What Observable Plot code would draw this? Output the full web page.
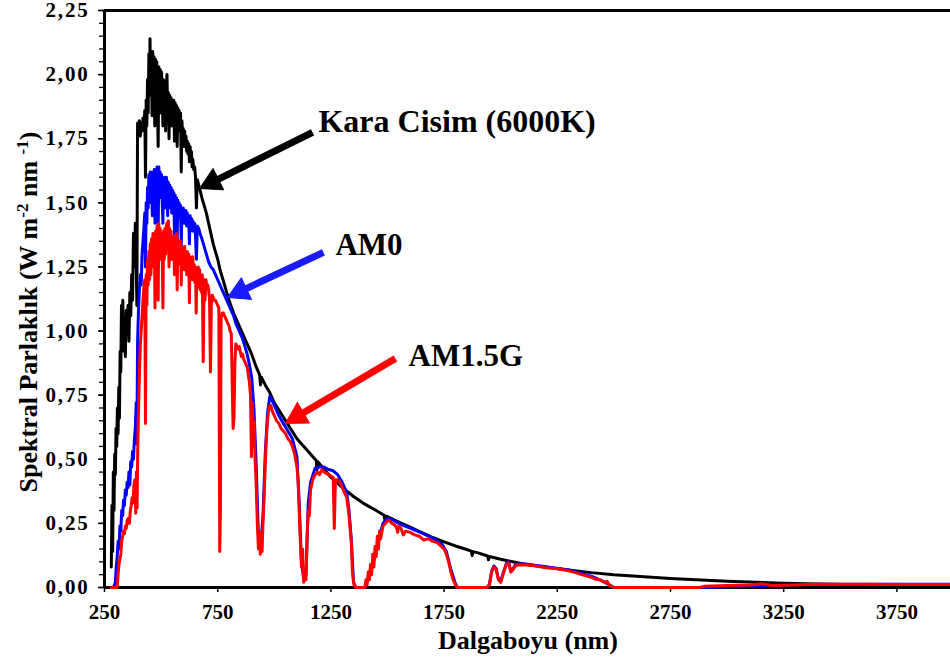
<!DOCTYPE html>
<html><head><meta charset="utf-8">
<script src="https://cdn.jsdelivr.net/npm/d3@7"></script>
<script src="https://cdn.jsdelivr.net/npm/@observablehq/plot@0.6"></script>
<style>
html,body{margin:0;padding:0;background:#fff;overflow:hidden;}
#chart svg{display:block;}
</style></head><body><div id="chart"></div>
<script>
// ---------- data ----------
const xTicks = [250, 750, 1250, 1750, 2250, 2750, 3250, 3750];
const yTicks = [0, 0.25, 0.5, 0.75, 1, 1.25, 1.5, 1.75, 2, 2.25];

// Kara Cisim (6000K) - black
const bbWl = [280,283,286,289,292,295,298,301,304,307,310,313,316,319,322,325,328,331,334,338,342,346,350,354,358,362,366,370,374,378,382,386,390,393,396,400,404,408,412,416,420,424,428,431,434,437,440,443,446,449,451,454,457,460,463,466,469,472,475,478,481,484,487,490,493,496,499,502,505,508,511,514,517,520,523,526,529,532,535,538,541,544,547,550,553,556,559,562,565,568,571,574,577,580,583,586,589,592,595,598,601,604,607,610,613,616,619,622,625,628,631,634,637,640,644,648,652,656,660,666,672,680,690,700,710,720,730,740,750,760,770,780,790,800,820,840,860,880,900,920,935,939,943,960,980,1000,1050,1100,1150,1185,1189,1193,1250,1300,1350,1400,1450,1485,1490,1495,1550,1600,1650,1700,1750,1800,1850,1870,1874,1878,1900,1942,1946,1950,2000,2100,2200,2300,2400,2500,2600,2750,3000,3250,3500,3750,4000];
const bbVal = [0.08,0.32,0.14,0.45,0.30,0.52,0.44,0.62,0.55,0.70,0.60,0.78,0.66,0.92,0.84,1.10,0.92,1.12,0.95,1.05,0.90,1.08,1.00,1.10,0.96,1.15,1.06,1.22,1.12,1.38,1.25,1.42,1.28,1.10,1.81,1.79,1.82,1.76,1.81,1.78,1.83,1.80,1.86,1.60,1.90,1.80,1.98,1.85,2.08,1.95,2.14,1.92,2.08,1.84,2.09,1.96,2.07,1.80,2.06,1.93,2.05,1.88,1.72,2.03,1.90,2.02,1.85,2.01,1.93,1.80,1.98,1.88,1.97,1.78,1.95,2.00,1.84,1.93,1.75,1.92,1.85,1.91,1.80,1.90,1.86,1.90,1.74,1.89,1.83,1.88,1.72,1.87,1.82,1.86,1.78,1.85,1.62,1.82,1.76,1.79,1.72,1.78,1.73,1.76,1.70,1.74,1.69,1.73,1.66,1.72,1.68,1.70,1.64,1.67,1.63,1.64,1.60,1.48,1.59,1.57,1.55,1.52,1.49,1.46,1.42,1.38,1.34,1.31,1.28,1.24,1.21,1.18,1.15,1.12,1.07,1.03,0.99,0.95,0.91,0.86,0.83,0.79,0.82,0.79,0.76,0.72,0.65,0.58,0.53,0.495,0.46,0.49,0.43,0.39,0.355,0.325,0.30,0.282,0.255,0.278,0.255,0.235,0.215,0.195,0.178,0.162,0.148,0.142,0.125,0.140,0.135,0.123,0.108,0.121,0.11,0.092,0.079,0.068,0.058,0.05,0.044,0.035,0.024,0.017,0.012,0.010,0.008];

// AM0 - blue
const am0Wl = [290,298,302,306,310,314,318,322,326,330,334,338,342,346,350,354,358,362,366,370,374,378,382,386,390,393,396,400,404,408,412,416,420,424,428,431,434,437,440,443,446,449,452,455,458,461,464,467,470,473,476,479,482,485,487,490,493,496,499,502,505,508,511,514,517,520,523,526,529,532,535,538,541,544,547,550,553,556,559,562,565,568,571,574,577,580,583,586,589,592,595,598,601,604,607,610,613,616,619,622,625,628,631,634,637,640,644,648,652,656,660,666,672,680,690,700,710,720,730,740,750,760,770,780,790,800,810,820,830,840,850,860,870,880,890,900,910,920,930,940,950,960,970,980,990,1000,1020,1040,1060,1080,1100,1110,1120,1130,1140,1150,1160,1180,1200,1220,1240,1260,1280,1300,1320,1330,1340,1350,1360,1400,1420,1440,1460,1480,1500,1520,1540,1560,1600,1650,1700,1740,1760,1780,1800,1810,1940,1950,1960,1970,1980,1990,2000,2010,2025,2035,2045,2055,2065,2100,2200,2300,2400,2460,2500,2900,3400,4000];
const am0Val = [0.00,0.02,0.08,0.12,0.18,0.15,0.24,0.22,0.30,0.28,0.34,0.32,0.38,0.36,0.41,0.39,0.45,0.40,0.49,0.47,0.53,0.50,0.58,0.62,0.72,0.56,0.95,1.08,1.16,1.22,1.18,1.30,1.35,1.40,1.46,1.25,1.50,1.42,1.56,1.48,1.61,1.52,1.62,1.50,1.60,1.45,1.62,1.55,1.63,1.42,1.62,1.55,1.64,1.50,1.38,1.64,1.55,1.62,1.52,1.61,1.50,1.42,1.60,1.52,1.59,1.48,1.60,1.58,1.45,1.58,1.48,1.57,1.50,1.56,1.46,1.55,1.49,1.54,1.38,1.53,1.47,1.52,1.36,1.51,1.45,1.50,1.44,1.49,1.33,1.48,1.43,1.48,1.42,1.47,1.42,1.47,1.41,1.46,1.41,1.45,1.34,1.45,1.40,1.44,1.39,1.43,1.39,1.42,1.37,1.28,1.41,1.40,1.38,1.36,1.33,1.30,1.27,1.25,1.24,1.22,1.20,1.18,1.16,1.14,1.12,1.10,1.08,1.06,1.03,1.01,0.99,0.97,0.94,0.91,0.87,0.82,0.70,0.48,0.20,0.16,0.28,0.52,0.68,0.745,0.73,0.71,0.67,0.64,0.61,0.58,0.51,0.33,0.10,0.03,0.05,0.33,0.41,0.465,0.47,0.47,0.46,0.455,0.44,0.41,0.37,0.30,0.19,0.02,0.00,0.00,0.05,0.11,0.18,0.25,0.27,0.265,0.255,0.245,0.232,0.213,0.193,0.17,0.14,0.07,0.015,0.00,0.00,0.012,0.064,0.084,0.074,0.034,0.024,0.054,0.094,0.099,0.064,0.074,0.089,0.093,0.081,0.068,0.044,0.021,0.00,0.00,0.013,0.013];

// AM1.5G - red
const am15Wl = [281,306,310,314,318,322,326,330,334,338,342,346,350,355,360,364,368,372,376,380,384,388,391,394,397,400,404,408,412,416,420,424,428,431,434,437,440,443,446,449,452,455,458,461,464,467,470,473,476,479,482,485,487,490,493,496,499,502,505,508,511,514,517,520,523,526,529,532,535,538,541,544,547,550,553,556,559,562,565,568,571,574,577,580,583,586,589,592,595,598,601,604,607,610,613,616,619,622,625,628,631,634,637,640,643,646,649,652,655,658,661,664,667,670,673,676,679,682,686,690,694,698,702,706,710,714,718,722,726,730,735,740,745,750,755,759,762,765,770,775,780,785,790,795,800,805,810,814,818,822,826,830,835,840,845,850,855,860,865,870,875,880,885,890,895,899,903,907,911,915,920,925,930,934,938,942,946,950,955,960,965,970,975,980,985,990,1000,1010,1020,1030,1040,1050,1060,1070,1080,1090,1100,1105,1110,1115,1120,1125,1130,1135,1140,1145,1150,1155,1160,1170,1180,1190,1200,1210,1220,1230,1240,1250,1260,1265,1270,1280,1290,1300,1310,1320,1330,1340,1345,1352,1360,1400,1405,1410,1415,1420,1425,1430,1435,1440,1445,1450,1455,1460,1465,1470,1480,1490,1500,1510,1520,1530,1540,1545,1550,1560,1570,1580,1600,1620,1640,1660,1680,1700,1720,1740,1750,1760,1770,1780,1790,1800,1810,1940,1950,1960,1970,1980,1990,2000,2010,2025,2035,2045,2055,2065,2080,2100,2150,2200,2250,2300,2330,2350,2380,2400,2420,2440,2460,2470,2480,2500,2880,2900,3000,3100,3150,3200,3300,3400,3600,3800,4000];
const am15Val = [0.00,0.00,0.05,0.09,0.11,0.13,0.18,0.20,0.22,0.21,0.24,0.23,0.26,0.27,0.25,0.30,0.32,0.35,0.33,0.40,0.42,0.29,0.45,0.31,0.55,0.68,0.82,0.94,1.00,1.06,1.12,1.17,1.20,0.64,1.22,1.10,1.28,1.18,1.31,1.20,1.34,1.22,1.36,1.25,1.38,1.28,1.37,1.09,1.39,1.30,1.41,1.25,1.12,1.42,1.30,1.40,1.28,1.38,1.30,1.09,1.39,1.28,1.40,1.30,1.41,1.42,1.32,1.43,1.25,1.40,1.30,1.39,1.28,1.37,1.29,1.37,1.22,1.37,1.28,1.38,1.16,1.36,1.27,1.35,1.26,1.35,1.18,1.33,1.25,1.32,1.24,1.33,1.25,1.30,1.22,1.31,1.23,1.30,1.11,1.29,1.22,1.28,1.20,1.29,1.21,1.26,1.19,1.25,1.07,1.24,1.18,1.25,1.17,1.24,1.16,1.22,1.15,1.22,0.88,1.20,1.12,1.20,1.17,1.18,1.16,1.12,0.84,1.10,1.14,1.13,1.12,1.12,1.11,1.10,1.09,0.14,0.30,1.05,1.07,1.07,1.06,1.05,1.04,1.03,1.02,1.00,0.99,0.80,0.62,0.66,0.88,0.95,0.94,0.93,0.94,0.92,0.90,0.91,0.89,0.88,0.87,0.86,0.83,0.80,0.75,0.51,0.72,0.55,0.65,0.50,0.40,0.25,0.15,0.22,0.13,0.20,0.14,0.25,0.35,0.48,0.58,0.65,0.69,0.71,0.71,0.69,0.67,0.65,0.64,0.62,0.61,0.60,0.58,0.57,0.55,0.52,0.47,0.42,0.30,0.18,0.08,0.15,0.02,0.06,0.03,0.20,0.30,0.28,0.38,0.42,0.44,0.45,0.44,0.46,0.45,0.445,0.44,0.435,0.43,0.23,0.42,0.42,0.41,0.39,0.37,0.35,0.28,0.18,0.06,0.01,0.00,0.00,0.03,0.01,0.06,0.03,0.09,0.05,0.13,0.08,0.16,0.12,0.20,0.15,0.22,0.19,0.24,0.25,0.26,0.26,0.25,0.245,0.235,0.215,0.24,0.23,0.205,0.22,0.215,0.205,0.20,0.185,0.19,0.18,0.175,0.158,0.15,0.13,0.10,0.06,0.03,0.01,0.00,0.00,0.01,0.06,0.08,0.07,0.03,0.02,0.05,0.09,0.095,0.06,0.07,0.085,0.088,0.089,0.085,0.077,0.073,0.065,0.058,0.052,0.045,0.04,0.032,0.03,0.018,0.024,0.008,0.00,0.00,0.005,0.008,0.010,0.015,0.008,0.010,0.013,0.013,0.012,0.012];

// annotations
const annText = ["Kara Cisim (6000K)", "AM0", "AM1.5G"];
const annColors = ["#000000", "#1a1aff", "#ff0000"];
const annSizes = [32, 31, 31];
const annTextX = [1195, 1270, 1593];
const annTextY = [1.775, 1.295, 0.862];
const annTailX = [1169, 1217, 1535];
const annTailY = [1.775, 1.307, 0.893];
const annTipX = [670, 793, 1049];
const annTipY = [1.556, 1.131, 0.640];

// ---------- build ----------
const W = 950, H = 661;
const mLeft = 104, mTop = 10, mBottom = 74;
const xRange = [104, 953];
const FONT = "'Liberation Serif', 'Times New Roman', serif";

const rows = (wl, val) => wl.map((w, i) => ({wl: w, v: val[i]}));
const bb = rows(bbWl, bbVal), am0 = rows(am0Wl, am0Val), am15 = rows(am15Wl, am15Val);

const sx = Plot.scale({x: {domain: [250, 4000], range: xRange}});
const sy = Plot.scale({y: {domain: [0, 2.25], range: [H - mBottom, mTop]}});

const arrowMarks = [];
annText.forEach((t, i) => {
  const tx = sx.apply(annTailX[i]), ty = sy.apply(annTailY[i]);
  const hx = sx.apply(annTipX[i]), hy = sy.apply(annTipY[i]);
  const len = Math.hypot(hx - tx, hy - ty);
  const ux = (hx - tx) / len, uy = (hy - ty) / len;
  const nx = -uy, ny = ux;
  const headLen = 21, half = 12;
  const bx = hx - ux * headLen, by = hy - uy * headLen;
  const shaft = [{x1: sx.invert(tx), y1: sy.invert(ty), x2: sx.invert(bx + ux * 2), y2: sy.invert(by + uy * 2)}];
  const head = [[hx, hy], [bx + nx * half, by + ny * half], [bx - nx * half, by - ny * half], [hx, hy]]
    .map(([px, py]) => ({x: sx.invert(px), y: sy.invert(py)}));
  arrowMarks.push(Plot.link(shaft, {x1: "x1", y1: "y1", x2: "x2", y2: "y2", stroke: annColors[i], strokeWidth: 7, strokeLinecap: "butt"}));
  arrowMarks.push(Plot.line(head, {x: "x", y: "y", fill: annColors[i], stroke: annColors[i], strokeWidth: 1, curve: "linear"}));
});

const annRows = annText.map((t, i) => ({t, x: annTextX[i], y: annTextY[i], fs: annSizes[i]}));
const fmt = d => d.toFixed(2).replace(".", ",");

const plot = Plot.plot({
  width: W, height: H,
  marginLeft: mLeft, marginRight: 0, marginTop: mTop, marginBottom: mBottom,
  style: {fontFamily: FONT, fontWeight: "bold", color: "#000", background: "#fff", overflow: "visible"},
  x: {domain: [250, 4000], range: xRange},
  y: {domain: [0, 2.25]},
  marks: [
    Plot.axisY({ticks: d3.range(0, 2.2501, 0.05), tickSize: 5, tickFormat: () => "", strokeWidth: 1.3, label: null}),
    Plot.axisY({ticks: yTicks, tickSize: 6, tickPadding: 9, tickFormat: fmt, fontSize: 21, fontWeight: "bold", fontFamily: FONT, strokeWidth: 1.5, label: null}),
    Plot.axisX({ticks: xTicks, tickSize: 5, tickPadding: 12, tickFormat: d => String(d), fontSize: 21, fontWeight: "bold", fontFamily: FONT, strokeWidth: 1.5, label: null}),
    Plot.ruleY([0], {stroke: "#000", strokeWidth: 3}),
    Plot.ruleY([2.25], {stroke: "#000", strokeWidth: 3}),
    Plot.ruleX([250], {stroke: "#000", strokeWidth: 3}),
    Plot.line(bb, {x: "wl", y: "v", stroke: "#000000", strokeWidth: 3}),
    Plot.line(am0, {x: "wl", y: "v", stroke: "#0000ff", strokeWidth: 3}),
    Plot.line(am15, {x: "wl", y: "v", stroke: "#ff0000", strokeWidth: 3}),
    ...arrowMarks,
    Plot.text(annRows, {x: "x", y: "y", text: "t", textAnchor: "start", lineAnchor: "bottom", fontSize: "fs", fontWeight: "bold", fontFamily: FONT, fill: "#000"})
  ]
});

const svg = d3.select(plot);
// widen y tick labels slightly, as in the reference
svg.selectAll("text").filter(function() { return /^\d,\d\d$/.test(this.textContent); })
  .attr("letter-spacing", "1.8px");
// y axis title with superscripts
const yt = svg.append("text")
  .attr("transform", "translate(37,312) rotate(-90)")
  .attr("text-anchor", "middle")
  .attr("font-family", FONT).attr("font-weight", "bold").attr("font-size", 26).attr("fill", "#000");
yt.append("tspan").text("Spektral Parlaklık (W m");
yt.append("tspan").attr("baseline-shift", "super").attr("font-size", 17).text("-2");
yt.append("tspan").text(" nm ");
yt.append("tspan").attr("baseline-shift", "super").attr("font-size", 17).text("-1");
yt.append("tspan").text(")");
// x axis title
svg.append("text")
  .attr("x", 528).attr("y", 649)
  .attr("text-anchor", "middle")
  .attr("font-family", FONT).attr("font-weight", "bold").attr("font-size", 26).attr("fill", "#000")
  .text("Dalgaboyu (nm)");

document.getElementById("chart").appendChild(plot);
</script>
</body></html>
